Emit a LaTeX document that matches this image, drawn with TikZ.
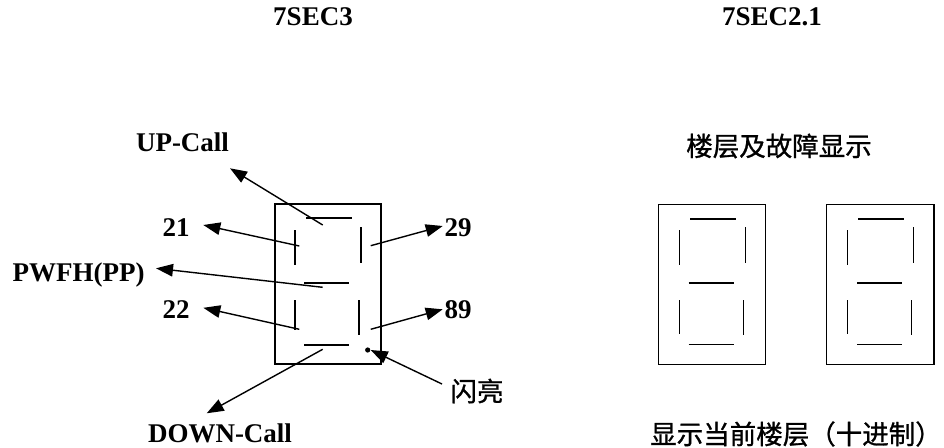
\documentclass[tikz,border=0pt]{standalone}
\usepackage{fontspec}
\setmainfont{Liberation Serif}
\newfontfamily\cjk[FakeBold=1]{Noto Sans CJK SC}
\usetikzlibrary{arrows.meta}
\begin{document}
\begin{tikzpicture}[x=1pt,y=-1pt,
  lbl/.style={font=\fontsize{27}{30}\selectfont\bfseries, anchor=base, inner sep=0},
  clbl/.style={font=\fontsize{26.5}{30}\selectfont\cjk, inner sep=0},
  seg/.style={line width=1.6pt},
  digbox/.style={line width=1.4pt},
  arr/.style={line width=1.4pt, -{Triangle[length=17pt,width=12.5pt]}}]
\useasboundingbox (0,0) rectangle (944,447);

% titles
\node[lbl] (t1) at (313,25) {7SEC3};
\node[lbl] (t2) at (772,25) {7SEC2.1};

% left digit
\draw[digbox] (275,204) rectangle (381,364);
\draw[seg] (306,218) -- (352,218);
\draw[seg] (295,230) -- (295,265);
\draw[seg] (360.7,227) -- (360.7,262.7);
\draw[seg] (304,282.7) -- (349,282.7);
\draw[seg] (295,300) -- (295,330);
\draw[seg] (359,300) -- (359,335);
\draw[seg] (304,345) -- (349,345);
\fill (367.7,350) circle (2.6);

% labels
\node[lbl] (up) at (182.5,151.7) {UP-Call};
\node[lbl] (n21) at (176,236) {21};
\node[lbl] (n29) at (458,236) {29};
\node[lbl] (pw) at (78.5,281) {PWFH(PP)};
\node[lbl] (n22) at (176,318.5) {22};
\node[lbl] (n89) at (458,318.5) {89};
\node[lbl] (dn) at (220,442.3) {DOWN-Call};
\node[clbl] (fl) at (477,391) {闪亮};

% arrow ends
\coordinate (sUP) at (322.7,225);   \coordinate (eUP) at (230,168.3);
\coordinate (s21) at (299.3,246);   \coordinate (e21) at (203.3,225);
\coordinate (s29) at (370.7,245.7); \coordinate (e29) at (442.7,226);
\coordinate (sPW) at (322.7,287.3); \coordinate (ePW) at (156,268.3);
\coordinate (s22) at (299.3,329.3); \coordinate (e22) at (203.3,307.8);
\coordinate (s89) at (370.7,329.3); \coordinate (e89) at (442.7,309.3);
\coordinate (sDN) at (322.7,349.3); \coordinate (eDN) at (206.7,413.3);
\coordinate (sFL) at (442,384);     \coordinate (eFL) at (370.7,350);

\draw[arr] (sUP) -- (eUP);
\draw[arr] (s21) -- (e21);
\draw[arr] (s29) -- (e29);
\draw[arr] (sPW) -- (ePW);
\draw[arr] (s22) -- (e22);
\draw[arr] (s89) -- (e89);
\draw[arr] (sDN) -- (eDN);
\draw[arr] (sFL) -- (eFL);

% right digits
\node[clbl] (hdr) at (779,146) {楼层及故障显示};
\foreach \dx in {0,168.3}{
  \begin{scope}[xshift=\dx]
    \draw[digbox] (658.3,204.3) rectangle (765.7,364.3);
    \draw[seg] (690,218.7) -- (735.7,218.7);
    \draw[seg] (679.3,230) -- (679.3,265);
    \draw[seg] (745.3,227.3) -- (745.3,263.3);
    \draw[seg] (688.7,282.7) -- (733.7,282.7);
    \draw[seg] (679.3,300) -- (679.3,334.3);
    \draw[seg] (743.3,300) -- (743.3,335);
    \draw[seg] (688.7,344.3) -- (733.7,344.3);
  \end{scope}
}
\node[clbl] (ftr) at (796,434) {显示当前楼层（十进制）};
\end{tikzpicture}
\end{document}
